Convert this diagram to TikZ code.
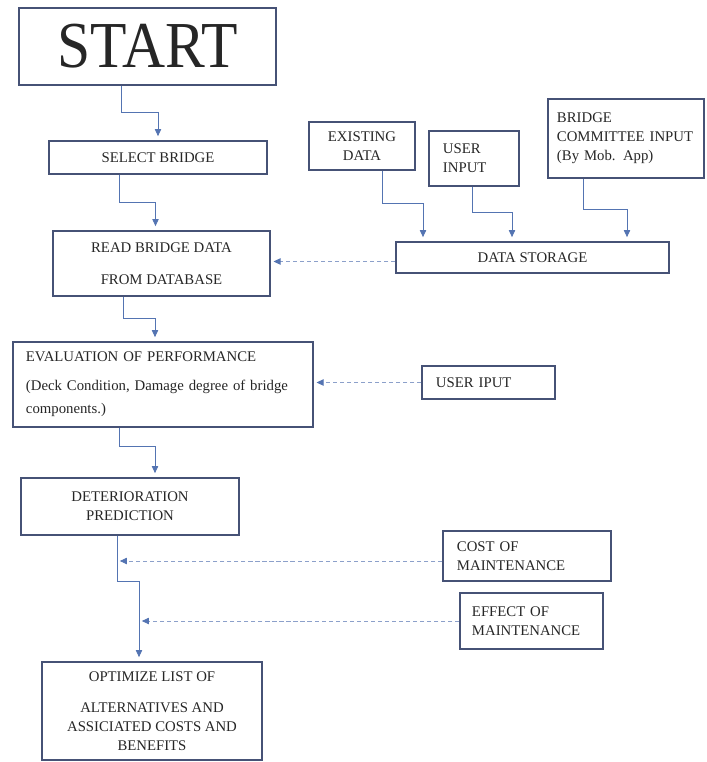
\documentclass[tikz,border=0pt]{standalone}
\usepackage{fontspec}
\setmainfont{Liberation Serif}
\usepackage{tikz}
\usetikzlibrary{arrows.meta,calc,positioning}
\definecolor{boxline}{RGB}{70,82,118}
\definecolor{flowline}{RGB}{84,116,178}
\definecolor{dashline}{RGB}{140,160,202}

\begin{document}
\begin{tikzpicture}[x=0.025cm, y=-0.025cm, font=\fontsize{10.5}{13.5}\selectfont]
   \useasboundingbox (0,0) rectangle (706,762);
   \begin{scope}[every node/.style={draw=boxline, line width=0.9pt, inner sep=0pt, align=center, text=black!85}]
    \node (start) [minimum width=6.425cm, minimum height=1.925cm, font=\fontsize{42.4}{42}\selectfont] at (147.5,46.5) {\scalebox{1}[1.1]{START}};
    \node (sel) [minimum width=5.45cm, minimum height=0.825cm] at (158,157.5) {SELECT BRIDGE};
    \node (read) [minimum width=5.425cm, minimum height=1.625cm] at (161.5,263.5) {READ BRIDGE DATA\\[9.5pt]FROM DATABASE};
    \node (exist) [minimum width=2.65cm, minimum height=1.2cm] at (362,146) {EXISTING\\DATA};
    \node (uin) [minimum width=2.25cm, minimum height=1.375cm, align=left, text width=1.55cm, inner xsep=0.35cm] at (474,158.5) {USER\\INPUT};
    \node (comm) [minimum width=3.9cm, minimum height=1.975cm, align=left, text width=3.45cm, inner xsep=0.225cm] at (626,138.5) {BRIDGE\\COMMITTEE INPUT\\(By Mob. App)};
    \node (store) [minimum width=6.825cm, minimum height=0.775cm] at (532.5,257.5) {DATA STORAGE};
    \node (eval) [minimum width=7.5cm, minimum height=2.125cm, align=left, text width=6.85cm, inner xsep=0.325cm] at (163,384.5) {EVALUATION OF PERFORMANCE\\[7pt](Deck Condition, Damage degree of bridge\\[3pt]components.)};
    \node (uip) [minimum width=3.325cm, minimum height=0.825cm, align=left, text width=2.625cm, inner xsep=0.35cm] at (488.5,382.5) {USER IPUT};
    \node (det) [minimum width=5.45cm, minimum height=1.425cm] at (130,506.5) {DETERIORATION\\PREDICTION};
    \node (cost) [minimum width=4.2cm, minimum height=1.25cm, align=left, text width=3.5cm, inner xsep=0.35cm] at (527,556) {COST OF\\MAINTENANCE};
    \node (eff) [minimum width=3.575cm, minimum height=1.4cm, align=left, text width=2.975cm, inner xsep=0.3cm] at (531.5,621) {EFFECT OF\\MAINTENANCE};
    \node (opt) [minimum width=5.5cm, minimum height=2.45cm] at (152,711) {OPTIMIZE LIST OF\\[9pt]ALTERNATIVES AND\\ASSICIATED COSTS AND\\BENEFITS};
   \end{scope}
   \coordinate (o1) at ($(opt.north)+(-13,0)$);
   \coordinate (c1) at ($(cost.west)+(0,5)$);
   \coordinate (s1) at ($(store.west)+(0,4)$);
   \begin{scope}[draw=flowline, line width=0.6pt, -{Triangle[length=5pt,width=4.5pt]}, shorten >=3pt]
    \draw ($(start.south)+(-26,0)$) -- ++(0,27) -| (sel.north);
    \draw ($(sel.south)+(-39,0)$) -- ++(0,28) -| ($(read.north)+(-6,0)$);
    \draw ($(read.south)+(-38,0)$) -- ++(0,22) -| ($(eval.north)+(-8,0)$);
    \draw ($(eval.south)+(-44,0)$) -- ++(0,19) -| ($(det.north)+(25,0)$);
    \draw ($(det.south)+(-13,0)$) coordinate (d1) -- ++(0,46) -| (o1);
    \draw ($(exist.south)+(20,0)$) -- ++(0,33) -| ($(store.north)+(-109.5,0)$);
    \draw ($(uin.south)+(-2,0)$) -- ++(0,26) -| ($(store.north)+(-20.5,0)$);
    \draw ($(comm.south)+(-43,0)$) -- ++(0,31) -| ($(store.north)+(94.5,0)$);
   \end{scope}
   \begin{scope}[draw=dashline, line width=0.6pt, dash pattern=on 3pt off 2pt, -{Triangle[length=5pt,width=4.5pt,color=flowline]}, shorten >=2pt]
    \draw (s1) -- (s1 -| read.east);
    \draw (uip.west) -- (uip.west -| eval.east);
    \draw (c1) -- (c1 -| d1);
    \draw (eff.west) -- (eff.west -| o1);
   \end{scope}
\end{tikzpicture}
\end{document}
